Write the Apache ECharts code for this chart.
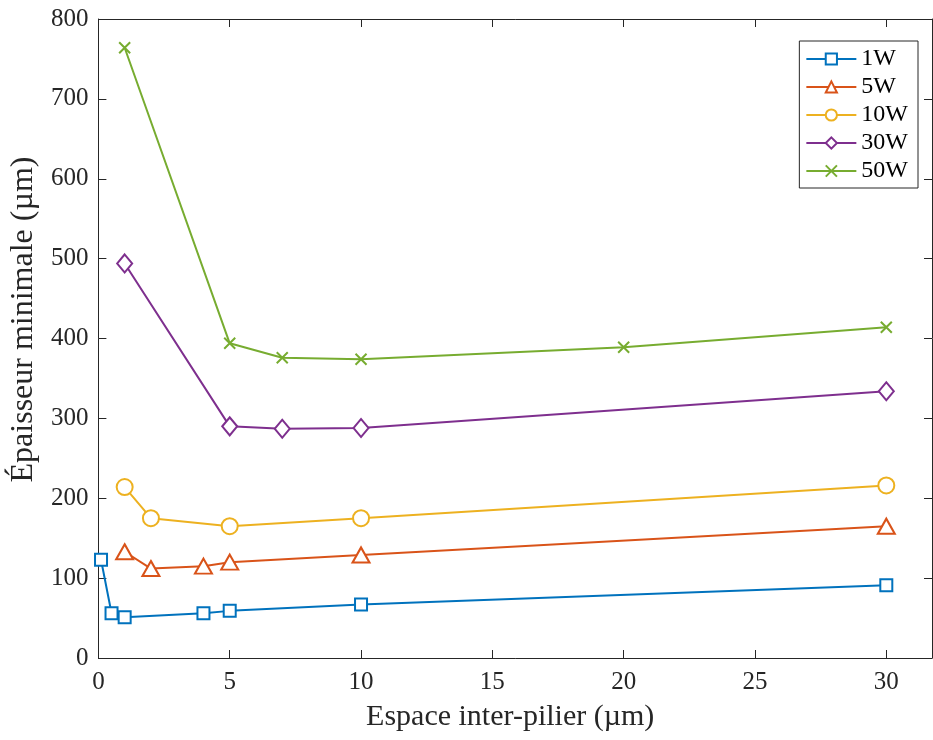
<!DOCTYPE html>
<html>
<head>
<meta charset="utf-8">
<script src="https://cdn.jsdelivr.net/npm/echarts@6/dist/echarts.min.js"></script>
<style>html,body{margin:0;padding:0;background:#fff}#c{width:933px;height:740px}</style>
</head>
<body>
<div id="c"></div>
<script>
const seriesNames = ['1W', '5W', '10W', '30W', '50W'];
const x1W = [0.1, 0.5, 1, 4, 5, 10, 30];
const y1W = [123, 56, 51, 56, 59, 67, 91];
const x5W = [1, 2, 4, 5, 10, 30];
const y5W = [133, 112, 115, 120, 129, 165];
const x10W = [1, 2, 5, 10, 30];
const y10W = [214, 175, 165, 175, 216];
const x30W = [1, 5, 7, 10, 30];
const y30W = [494, 290, 287, 288, 334];
const x50W = [1, 5, 7, 10, 20, 30];
const y50W = [764, 394, 376, 374, 389, 414];
const xTicks = [0, 5, 10, 15, 20, 25, 30];
const yTicks = [0, 100, 200, 300, 400, 500, 600, 700, 800];

const colors = ['#0072BD', '#D95319', '#EDB120', '#7E2F8E', '#77AC30'];
const symbols = ['rect', 'triangle', 'circle', 'diamond', 'path://M0,0L10,10M10,0L0,10'];
const symbolSizes = [[12, 12], [17, 15], [16, 16], [15, 18], [11, 11]];
const xs = [x1W, x5W, x10W, x30W, x50W];
const ys = [y1W, y5W, y10W, y30W, y50W];

const font = 'Liberation Serif';
const axisColor = '#262626';

const chart = echarts.init(document.getElementById('c'));
const axisCommon = {
  axisLine: {show: true, onZero: false, lineStyle: {color: axisColor, width: 1}},
  axisTick: {show: true, inside: true, length: 8, lineStyle: {color: axisColor}},
  splitLine: {show: false}
};
const series = seriesNames.map((n, i) => ({
  name: n,
  type: 'line',
  data: xs[i].map((x, j) => [x, ys[i][j]]),
  symbol: symbols[i],
  symbolSize: symbolSizes[i],
  showAllSymbol: true,
  lineStyle: {color: colors[i], width: 2},
  itemStyle: {color: '#fff', borderColor: colors[i], borderWidth: 2},
  color: colors[i],
  emphasis: {disabled: true},
  z: 3
}));

chart.setOption({
  animation: false,
  backgroundColor: '#fff',
  grid: {left: 98, top: 19, right: 1, bottom: 82, containLabel: false},
  legend: {
    data: seriesNames,
    orient: 'vertical',
    right: 15,
    top: 41,
    itemWidth: 50,
    itemHeight: 14,
    itemGap: 4,
    padding: [6, 10, 5, 6],
    backgroundColor: '#fff',
    borderColor: axisColor,
    borderWidth: 1,
    borderRadius: 0,
    textStyle: {fontFamily: font, fontSize: 24, color: '#000'}
  },
  xAxis: [{
    type: 'value', min: 0, max: 31.74, interval: 5,
    name: 'Espace inter-pilier (µm)', nameLocation: 'middle', nameGap: 44,
    nameTextStyle: {fontFamily: font, fontSize: 30, color: axisColor, padding: [0, 10, 0, 0]},
    axisLabel: {fontFamily: font, fontSize: 25, color: axisColor, margin: 12, showMaxLabel: false,
      formatter: v => xTicks.includes(v) ? String(v) : ''},
    ...axisCommon
  }, {
    type: 'value', min: 0, max: 31.74, interval: 5, position: 'top',
    axisLabel: {show: false}, ...axisCommon
  }],
  yAxis: [{
    type: 'value', min: 0, max: 800, interval: 100,
    name: 'Épaisseur minimale (µm)', nameLocation: 'middle', nameGap: 55,
    nameTextStyle: {fontFamily: font, fontSize: 32, color: axisColor, padding: [0, 0, 0, 38]},
    axisLabel: {fontFamily: font, fontSize: 25, color: axisColor, margin: 10,
      formatter: v => yTicks.includes(v) ? String(v) : ''},
    ...axisCommon
  }, {
    type: 'value', min: 0, max: 800, interval: 100, position: 'right',
    axisLabel: {show: false}, ...axisCommon
  }],
  series: series
});
</script>
</body>
</html>
